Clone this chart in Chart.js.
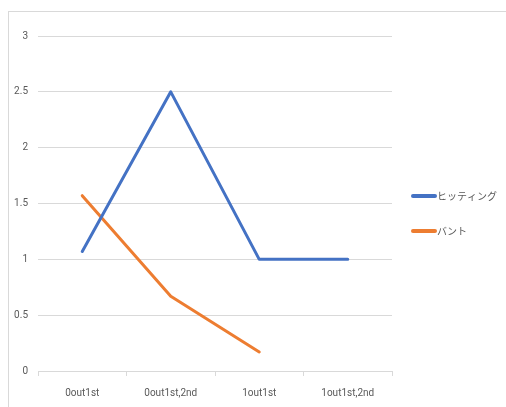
<!DOCTYPE html>
<html>
<head>
<meta charset="utf-8">
<script src="https://cdn.jsdelivr.net/npm/chart.js@4.4.1/dist/chart.umd.min.js"></script>
<style>
  html, body { margin: 0; padding: 0; background: #fff; overflow: hidden; }
  #wrap { position: relative; width: 506px; height: 407px; }
  #frame { position: absolute; left: 8px; top: 11px; width: 600px; height: 500px;
           border: 1px solid #d9d9d9; box-sizing: border-box; }
  canvas { position: absolute; left: 0; top: 0; }
</style>
</head>
<body>
<div id="wrap">
  <div id="frame"></div>
  <canvas id="c" width="506" height="407"></canvas>
</div>
<script>
// Situations (runners on base / outs)
const categories = ['0out1st', '0out1st,2nd', '1out1st', '1out1st,2nd'];
// Average runs per tactic
const hitting = [1.07, 2.5, 1, 1];
const bunt = [1.57, 0.67, 0.17, null];
const seriesNames = ['ヒッティング', 'バント'];
const yTicks = [0, 0.5, 1, 1.5, 2, 2.5, 3];

const FONT = 'Roboto, "Liberation Sans", sans-serif';
const TEXT = '#595959';

// Legend drawn at the right of the plot, one short line + label per series
const sideLegend = {
  id: 'sideLegend',
  afterDraw(chart) {
    const ctx = chart.ctx;
    const x0 = 413, lineLen = 22;
    const rows = [196, 231];
    ctx.save();
    chart.data.datasets.forEach((ds, i) => {
      const y = rows[i];
      ctx.strokeStyle = ds.borderColor;
      ctx.lineWidth = 4;
      ctx.lineCap = 'round';
      ctx.beginPath();
      ctx.moveTo(x0, y);
      ctx.lineTo(x0 + lineLen, y);
      ctx.stroke();
      ctx.fillStyle = TEXT;
      ctx.font = '10px "Noto Sans CJK JP", sans-serif';
      ctx.textBaseline = 'middle';
      ctx.textAlign = 'left';
      ctx.fillText(ds.label, x0 + lineLen + 2, y);
    });
    ctx.restore();
  }
};

new Chart(document.getElementById('c'), {
  type: 'line',
  data: {
    labels: categories,
    datasets: [
      { label: seriesNames[0], data: hitting, borderColor: '#4472C4', backgroundColor: '#4472C4',
        borderWidth: 3, pointRadius: 0, borderCapStyle: 'round', borderJoinStyle: 'round', tension: 0 },
      { label: seriesNames[1], data: bunt, borderColor: '#ED7D31', backgroundColor: '#ED7D31',
        borderWidth: 3, pointRadius: 0, borderCapStyle: 'round', borderJoinStyle: 'round', tension: 0 }
    ]
  },
  options: {
    responsive: false,
    animation: false,
    layout: { padding: { top: 36, right: 114, bottom: 0, left: 0 } },
    plugins: { legend: { display: false }, tooltip: { enabled: false } },
    scales: {
      x: {
        offset: true,
        grid: { offset: true, drawOnChartArea: false, drawTicks: true, tickLength: 5, color: '#d9d9d9' },
        border: { color: '#d9d9d9', width: 1 },
        ticks: { color: TEXT, font: { family: FONT, size: 10 }, padding: 11, maxRotation: 0 },
        afterFit(s) { s.height = 36; }
      },
      y: {
        min: 0, max: 3,
        afterBuildTicks(s) { s.ticks = yTicks.map(v => ({ value: v })); },
        grid: { color: '#d9d9d9', lineWidth: 1, drawTicks: false },
        border: { display: false },
        ticks: { color: TEXT, font: { family: FONT, size: 10 }, padding: 10,
                 callback: v => String(v) },
        afterFit(s) { s.width = 38; }
      }
    }
  },
  plugins: [sideLegend]
});
</script>
</body>
</html>
